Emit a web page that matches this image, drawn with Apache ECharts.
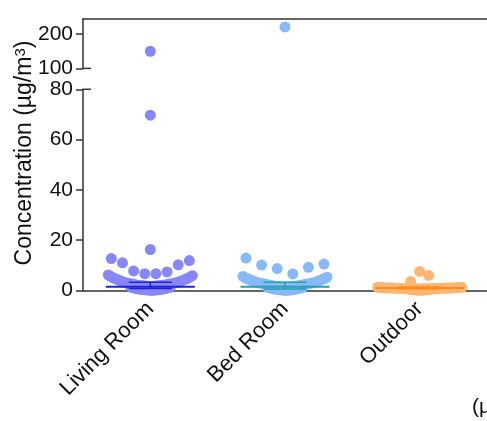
<!DOCTYPE html>
<html><head><meta charset="utf-8">
<script src="https://cdn.jsdelivr.net/npm/echarts@6.0.0/dist/echarts.min.js"></script>
<style>html,body{margin:0;padding:0;background:#fff}#c{width:487px;height:421px}</style>
</head><body><div id="c"></div>
<script>
// ---------- data ----------
const categories = ['Living Room', 'Bed Room', 'Outdoor'];
const livingRoom = [150, 69.7, 16.3, 12.7, 11.9, 11.0, 10.2, 7.8, 7.4, 6.7, 6.7,
  6.2, 5.9, 5.6, 5.3, 5.0, 4.8, 4.6, 4.4, 4.2, 4.0, 3.8, 3.6, 3.4, 3.2, 3.1, 3.0, 2.9, 2.8, 2.7,
  2.6, 2.5, 2.4, 2.3, 2.2, 2.1, 2.05, 2.0, 1.95, 1.9, 1.85, 1.8, 1.75, 1.7, 1.65, 1.6,
  1.4, 1.25, 1.1, 1.0, 0.9, 0.8, 0.7, 0.6, 0.5, 0.4, 0.35, 0.3, 0.25, 0.2, 0.15, 0.1, 0.05];
const bedRoom = [221, 12.9, 10.5, 10.1, 9.2, 8.7, 6.6,
  5.6, 5.3, 5.0, 4.8, 4.6, 4.4, 4.2, 4.0, 3.8, 3.6, 3.4, 3.2, 3.1, 3.0, 2.9, 2.8, 2.7, 2.6, 2.5,
  2.4, 2.3, 2.2, 2.1, 2.0, 1.9, 1.8, 1.7, 1.65, 1.6, 1.55, 1.5, 1.45, 1.4, 1.35, 1.3,
  1.2, 1.1, 1.0, 0.9, 0.8, 0.7, 0.6, 0.5, 0.4, 0.3, 0.25, 0.2, 0.15, 0.1, 0.05];
const outdoor = [7.6, 6.0, 3.6,
  1.3, 1.25, 1.2, 1.15, 1.1, 1.08, 1.05, 1.05, 1.02, 1.0, 1.0, 0.98, 0.95, 0.95, 0.92, 0.9, 0.9,
  0.88, 0.85, 0.85, 0.82, 0.8, 0.8, 0.78, 0.75, 0.75, 0.72, 0.7, 0.7, 0.68, 0.65, 0.65, 0.62,
  0.6, 0.6, 0.5, 0.45, 0.4, 0.35, 0.3, 0.25, 0.2, 0.15, 0.1, 0.05];
const medians = [1.5, 1.5, 1.0];
const errLow = [0.8, 0.6, 0.7];
const errHigh = [3.3, 3.3, 1.4];
const lowerTicks = [0, 20, 40, 60, 80];
const upperTicks = [100, 200];
const lowerRange = [0, 80];
const upperRange = [100, 244];

// ---------- style / layout ----------
const dotColors = ['#8787F7', '#89B9F7', '#FFB672'];
const lineColors = ['#2020E0', '#23A2B4', '#FF8A1E'];
const axisColor = '#333';
const textColor = '#111';
const FS = 21;
const DOT = 11;
const ROW_H = 6.5;              // row height of the dot plot (value units)
const ROW_OFFSET = [0, 0, 3.0]; // row alignment per column
const ROW_HALF = 39;            // px, half width of a full row
const SMALL_STEP = 9;           // px between dots in short rows
const DENSE_HALF = 42;          // px, half width of a crowded row
const DENSE_STEP = 2.47;        // px between dots in crowded rows

const chart = echarts.init(document.getElementById('c'), null, {renderer: 'canvas'});
const groups = [livingRoom, bedRoom, outdoor];
const font = '"Liberation Sans", Arial, sans-serif';

const yCommon = {
  type: 'value',
  axisLine: {show: true, lineStyle: {color: axisColor, width: 1.5}},
  splitLine: {show: false}
};
const tickStyle = {show: true, length: 7, lineStyle: {color: axisColor, width: 1.5}};
const labelStyle = {color: textColor, fontSize: FS, fontFamily: font, margin: 10};

chart.setOption({
  animation: false,
  grid: [
    {left: 83, top: 19, width: 408, height: 49.4},
    {left: 83, top: 89.3, width: 408, height: 201.2}
  ],
  xAxis: [
    {type: 'category', gridIndex: 0, position: 'top', data: categories,
     axisLine: {show: true, lineStyle: {color: axisColor, width: 1.5}}, axisTick: {show: false}, axisLabel: {show: false}},
    {type: 'value', gridIndex: 0, min: 0, max: 3, show: false},
    {type: 'category', gridIndex: 1, position: 'bottom', data: categories,
     axisLine: {show: true, lineStyle: {color: axisColor, width: 1.5}},
     axisTick: {show: true, alignWithLabel: true, length: 4, lineStyle: {color: axisColor, width: 1.5}},
     axisLabel: {rotate: 45, color: textColor, fontSize: 22, fontFamily: font, margin: 15}},
    {type: 'value', gridIndex: 1, min: 0, max: 3, show: false}
  ],
  yAxis: [
    Object.assign({}, yCommon, {gridIndex: 0, min: upperRange[0], max: upperRange[1], interval: 100,
      axisTick: Object.assign({}, tickStyle, {customValues: upperTicks}),
      axisLabel: Object.assign({}, labelStyle, {customValues: upperTicks})}),
    Object.assign({}, yCommon, {gridIndex: 1, min: lowerRange[0], max: lowerRange[1], interval: 20,
      axisTick: Object.assign({}, tickStyle, {customValues: lowerTicks}),
      axisLabel: Object.assign({}, labelStyle, {customValues: lowerTicks})})
  ],
  series: []
});

// dot-plot layout: rows of values, each sorted and spread centre-outward
function spread(idx, dx, step, descending) {
  const n = idx.length;
  const order = descending ? idx.slice().reverse() : idx;
  order.forEach((id, k) => {
    let off;
    if (n % 2 === 1) off = k === 0 ? 0 : Math.ceil(k / 2) * step * (k % 2 ? 1 : -1);
    else off = (Math.floor(k / 2) + 0.5) * step * (k % 2 ? -1 : 1);
    dx[id] = off;
  });
}
function rowOffsets(vals, gi) {
  const rows = {};
  vals.forEach((v, i) => {
    const r = Math.floor((v + ROW_OFFSET[gi]) / ROW_H);
    (rows[r] = rows[r] || []).push(i);
  });
  const dx = new Array(vals.length).fill(0);
  const cap = Math.floor(2 * DENSE_HALF / DENSE_STEP) + 1;
  Object.values(rows).forEach(idx => {
    idx.sort((a, b) => vals[a] - vals[b]);
    const n = idx.length;
    if (n > cap) {
      // crowded row: highest values form the full-width row, the rest an inner row
      spread(idx.slice(n - cap), dx, DENSE_STEP, false);
      spread(idx.slice(0, n - cap), dx, DENSE_STEP, false);
    } else if (n >= 5) {
      spread(idx, dx, 2 * ROW_HALF / (n - 1), false);
    } else {
      spread(idx, dx, SMALL_STEP, n % 2 === 1);
    }
  });
  return dx;
}

const pxPerCat = chart.convertToPixel({xAxisIndex: 3}, 1) - chart.convertToPixel({xAxisIndex: 3}, 0);
const series = [];
groups.forEach((vals, gi) => {
  const dx = rowOffsets(vals, gi);
  const lowData = [], upData = [];
  vals.forEach((v, i) => {
    const pt = [gi + 0.5 + dx[i] / pxPerCat, v];
    (v > lowerRange[1] ? upData : lowData).push(pt);
  });
  series.push({
    type: 'scatter', xAxisIndex: 3, yAxisIndex: 1, symbolSize: DOT, clip: false, z: 2,
    itemStyle: {color: dotColors[gi], opacity: 1}, data: lowData
  });
  if (upData.length) series.push({
    type: 'scatter', xAxisIndex: 1, yAxisIndex: 0, symbolSize: DOT, clip: false, z: 2,
    itemStyle: {color: dotColors[gi], opacity: 1}, data: upData
  });
});

series.push({
  type: 'custom', xAxisIndex: 3, yAxisIndex: 1, z: 5, clip: false,
  data: categories.map((c, i) => [i + 0.5, medians[i], errLow[i], errHigh[i], i]),
  renderItem: function (params, api) {
    const cx = api.value(0), gi = api.value(4);
    const band = api.size([1, 0])[0];
    const pm = api.coord([cx, api.value(1)]);
    const pl = api.coord([cx, api.value(2)]);
    const ph = api.coord([cx, api.value(3)]);
    const col = lineColors[gi];
    const hw = band * 0.33, cw = band * 0.16;
    return {type: 'group', children: [
      {type: 'line', shape: {x1: pm[0] - hw, y1: pm[1], x2: pm[0] + hw, y2: pm[1]}, style: {stroke: col, lineWidth: 2}},
      {type: 'line', shape: {x1: pm[0] - cw, y1: ph[1], x2: pm[0] + cw, y2: ph[1]}, style: {stroke: col, lineWidth: 1.5}},
      {type: 'line', shape: {x1: pm[0] - cw, y1: pl[1], x2: pm[0] + cw, y2: pl[1]}, style: {stroke: col, lineWidth: 1.5}},
      {type: 'line', shape: {x1: pm[0], y1: ph[1], x2: pm[0], y2: pl[1]}, style: {stroke: col, lineWidth: 1.5}}
    ]};
  }
});

// axis break marks
const axX = chart.convertToPixel({xAxisIndex: 3}, 0);
const yUpBottom = chart.convertToPixel({yAxisIndex: 0}, upperRange[0]);
const yLowTop = chart.convertToPixel({yAxisIndex: 1}, lowerRange[1]);

chart.setOption({
  series: series,
  graphic: [
    {type: 'line', shape: {x1: axX, y1: yUpBottom, x2: axX + 8, y2: yUpBottom}, style: {stroke: axisColor, lineWidth: 1.5}},
    {type: 'line', shape: {x1: axX, y1: yLowTop, x2: axX + 8, y2: yLowTop}, style: {stroke: axisColor, lineWidth: 1.5}},
    {type: 'text', x: 25, y: 153, rotation: Math.PI / 2,
     style: {text: 'Concentration (µg/m{sup|3})', fill: textColor, fontSize: 23, fontFamily: font,
       align: 'center', verticalAlign: 'middle',
       rich: {sup: {fontSize: 15, verticalAlign: 'top', fill: textColor, fontFamily: font}}}},
    {type: 'text', x: 472, y: 397,
     style: {text: '(µg/m³)', fill: textColor, fontSize: FS, fontFamily: font, align: 'left', verticalAlign: 'top'}}
  ]
});
</script>
</body></html>
